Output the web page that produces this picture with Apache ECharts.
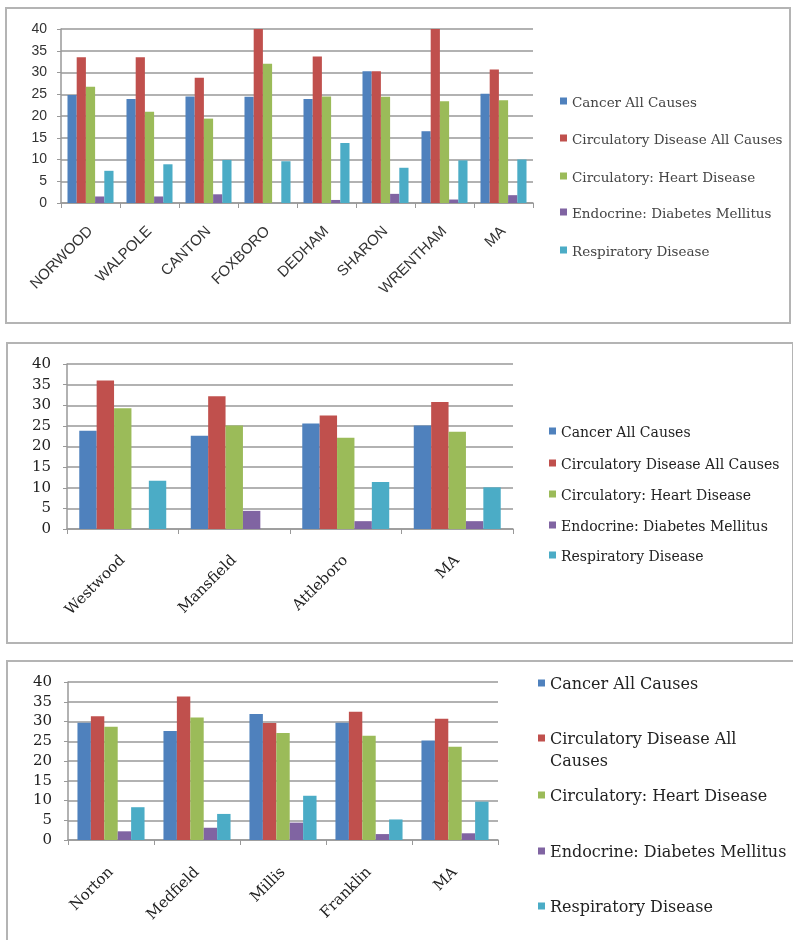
<!DOCTYPE html>
<html>
<head>
<meta charset="utf-8">
<script src="https://cdn.jsdelivr.net/npm/echarts@6/dist/echarts.min.js"></script>
<style>
html,body{margin:0;padding:0;background:#fff;}
#chart{width:793px;height:940px;}
</style>
</head>
<body>
<div id="chart"></div>
<script>
// ---------- data ----------
const seriesNames = ['Cancer All Causes','Circulatory Disease All Causes','Circulatory: Heart Disease','Endocrine: Diabetes Mellitus','Respiratory Disease'];
const yTicks = [0,5,10,15,20,25,30,35,40];

const cat1 = ['NORWOOD','WALPOLE','CANTON','FOXBORO','DEDHAM','SHARON','WRENTHAM','MA'];
const p1Cancer  = [24.8,23.9,24.5,24.4,23.9,30.3,16.5,25.1];
const p1CircAll = [33.5,33.5,28.8,40.0,33.7,30.3,40.0,30.7];
const p1Heart   = [26.7,21.0,19.4,32.0,24.5,24.4,23.4,23.6];
const p1Diab    = [1.5,1.5,2.0,0,0.7,2.1,0.8,1.8];
const p1Resp    = [7.4,8.9,9.9,9.6,13.8,8.1,9.8,10.0];

const cat2 = ['Westwood','Mansfield','Attleboro','MA'];
const p2Cancer  = [23.8,22.6,25.6,25.1];
const p2CircAll = [36.0,32.2,27.5,30.8];
const p2Heart   = [29.3,25.1,22.1,23.6];
const p2Diab    = [0,4.4,1.9,1.9];
const p2Resp    = [11.7,0,11.4,10.1];

const cat3 = ['Norton','Medfield','Millis','Franklin','MA'];
const p3Cancer  = [29.7,27.6,31.9,29.7,25.2];
const p3CircAll = [31.3,36.3,29.6,32.5,30.7];
const p3Heart   = [28.7,31.0,27.1,26.4,23.6];
const p3Diab    = [2.2,3.1,4.4,1.5,1.7];
const p3Resp    = [8.3,6.6,11.2,5.2,9.7];

// ---------- styling ----------
const colors = ['#4F81BD','#C0504D','#9BBB59','#8064A2','#4BACC6'];
const panels = [
  {cats: cat1, data: [p1Cancer,p1CircAll,p1Heart,p1Diab,p1Resp],
   grid: {left: 61, top: 29, width: 472, height: 174},
   yFont: {fontFamily: 'Liberation Sans', fontSize: 14, color: '#333', margin: 14},
   xFont: {fontFamily: 'Liberation Sans', fontSize: 15, color: '#333', margin: 26},
   legend: {left: 560, centers: [103,140,178,214,252], font: {fontFamily: 'DejaVu Serif', fontSize: 13.5, color: '#444'}},
   box: {x: 6, y: 8, w: 784, h: 315}},
  {cats: cat2, data: [p2Cancer,p2CircAll,p2Heart,p2Diab,p2Resp],
   grid: {left: 67, top: 364, width: 446, height: 165},
   yFont: {fontFamily: 'DejaVu Serif', fontSize: 15, color: '#222', margin: 16},
   xFont: {fontFamily: 'DejaVu Serif', fontSize: 15, color: '#222', margin: 29},
   legend: {left: 549, centers: [433,465,496,527,557], font: {fontFamily: 'DejaVu Serif', fontSize: 14, color: '#222'}},
   box: {x: 7, y: 343, w: 786, h: 300}},
  {cats: cat3, data: [p3Cancer,p3CircAll,p3Heart,p3Diab,p3Resp],
   grid: {left: 68, top: 682, width: 430, height: 158},
   yFont: {fontFamily: 'DejaVu Serif', fontSize: 15, color: '#222', margin: 16},
   xFont: {fontFamily: 'DejaVu Serif', fontSize: 15, color: '#222', margin: 30},
   legend: {left: 538, centers: [685,740,797,853,908], font: {fontFamily: 'DejaVu Serif', fontSize: 16, color: '#222'}},
   box: {x: 7, y: 661, w: 800, h: 300}}
];

const grid = [], xAxis = [], yAxis = [], series = [], legend = [], graphics = [];
panels.forEach((p, i) => {
  grid.push(Object.assign({containLabel: false}, p.grid));
  xAxis.push({
    type: 'category', gridIndex: i, data: p.cats, boundaryGap: true,
    axisLine: {show: true, lineStyle: {color: '#999', width: 1.5}},
    axisTick: {show: true, length: 5, lineStyle: {color: '#999'}},
    axisLabel: Object.assign({rotate: 45, interval: 0}, p.xFont),
    splitLine: {show: false}
  });
  yAxis.push({
    type: 'value', gridIndex: i, min: yTicks[0], max: yTicks[yTicks.length-1], interval: yTicks[1]-yTicks[0],
    axisLine: {show: true, lineStyle: {color: '#999', width: 1.5}},
    axisTick: {show: true, length: 4, lineStyle: {color: '#999'}},
    axisLabel: Object.assign({}, p.yFont),
    splitLine: {show: true, lineStyle: {color: '#999', width: 1.5}}
  });
  seriesNames.forEach((name, k) => {
    series.push({
      type: 'bar', name: name, xAxisIndex: i, yAxisIndex: i,
      data: p.data[k], barGap: '0%', barCategoryGap: '22%',
      itemStyle: {color: colors[k]}, animation: false
    });
  });
  seriesNames.forEach((name, k) => {
    const fs = p.legend.font.fontSize;
    const wrapped = (i === 2 && k === 1);
    const lh = Math.round(fs * 1.4);
    legend.push({
      data: [name], orient: 'vertical', left: p.legend.left,
      top: p.legend.centers[k] - lh / 2,
      itemWidth: 7, itemHeight: 11,
      icon: 'path://M0,0h7v7h-7zM0,11h0.01v0.01h-0.01z',
      padding: 0, selectedMode: false,
      formatter: wrapped ? () => 'Circulatory Disease All' : undefined,
      textStyle: Object.assign({lineHeight: lh}, p.legend.font)
    });
    if (wrapped) {
      graphics.push({
        type: 'text', left: p.legend.left + 12, top: p.legend.centers[k] + lh - lh / 2, silent: true,
        style: Object.assign({text: 'Causes', fill: p.legend.font.color,
          font: fs + 'px "' + p.legend.font.fontFamily + '"', lineHeight: lh}, {})
      });
    }
  });
  graphics.push({
    type: 'rect', shape: {x: p.box.x, y: p.box.y, width: p.box.w, height: p.box.h},
    style: {fill: 'none', stroke: '#b4b4b4', lineWidth: 2}, silent: true, z: -10
  });
});

const chart = echarts.init(document.getElementById('chart'), null, {renderer: 'canvas'});
chart.setOption({
  backgroundColor: '#fff',
  animation: false,
  color: colors,
  grid: grid, xAxis: xAxis, yAxis: yAxis, series: series, legend: legend,
  graphic: graphics
});
</script>
</body>
</html>
